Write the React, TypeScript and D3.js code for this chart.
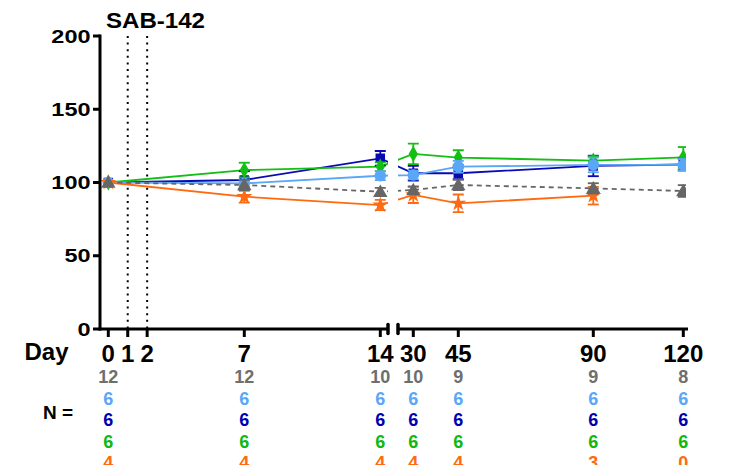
import React from "react";
import * as d3 from "d3";

// ---- data ----
const days = [0, 7, 14, 30, 45, 90, 120];
const dayTickLabels = ["0", "1", "2", "7", "14", "30", "45", "90", "120"];
const dayTicks = [0, 1, 2, 7, 14, 30, 45, 90, 120];
const yTicks = [0, 50, 100, 150, 200];

const grayMean = [100, 98.3, 93.7, 94.9, 98.3, 96.0, 94.2];
const graySem = [0, 3.5, 2.6, 2.5, 3.5, 3.5, 4];
const lightBlueMean = [100, 99.4, 104.6, 105.1, 110.8, 112.0, 112.0];
const lightBlueSem = [0, 2.5, 3, 3, 4, 5, 4];
const darkBlueMean = [100, 101.7, 116.5, 106.3, 106.3, 111.3, 112.3];
const darkBlueSem = [0, 6, 5, 5, 4, 7, 4];
const greenMean = [100, 108.5, 110.8, 119.5, 117.0, 114.9, 117.2];
const greenSem = [0, 5, 3, 7, 5, 3, 7];
const orangeMean: (number | null)[] = [100, 90.3, 84.6, 91.5, 85.8, 91.0, null];
const orangeSem: (number | null)[] = [0, 4, 3.5, 5.5, 6, 6, null];

const nGray = [12, 12, 10, 10, 9, 9, 8];
const nLightBlue = [6, 6, 6, 6, 6, 6, 6];
const nDarkBlue = [6, 6, 6, 6, 6, 6, 6];
const nGreen = [6, 6, 6, 6, 6, 6, 6];
const nOrange = [4, 4, 4, 4, 4, 3, 0];

const title = "SAB-142";

// ---- styles ----
const FONT = "'Liberation Sans', Arial, Helvetica, sans-serif";
const C_GRAY = "#666666";
const C_LBLUE = "#5aa6f7";
const C_DBLUE = "#0a0ab4";
const C_GREEN = "#14bf14";
const C_ORANGE = "#ff6a10";

type Series = {
  mean: (number | null)[];
  sem: (number | null)[];
  color: string;
  symbol: d3.SymbolType;
  size: number;
  dashed?: boolean;
};

const series: Series[] = [
  { mean: darkBlueMean, sem: darkBlueSem, color: C_DBLUE, symbol: d3.symbolSquare, size: 90 },
  { mean: greenMean, sem: greenSem, color: C_GREEN, symbol: d3.symbolDiamond, size: 75 },
  { mean: lightBlueMean, sem: lightBlueSem, color: C_LBLUE, symbol: d3.symbolCircle, size: 105 },
  { mean: orangeMean, sem: orangeSem, color: C_ORANGE, symbol: d3.symbolStar, size: 80 },
  { mean: grayMean, sem: graySem, color: C_GRAY, symbol: d3.symbolTriangle, size: 90, dashed: true },
];

const nRows = [
  { values: nGray, color: "#6e6e6e" },
  { values: nLightBlue, color: C_LBLUE },
  { values: nDarkBlue, color: "#0000b0" },
  { values: nGreen, color: "#11b811" },
  { values: nOrange, color: C_ORANGE },
];

export default function App() {
  const x = d3.scaleLinear().domain([0, 14, 30, 120]).range([108.3, 380.3, 413.3, 683.3]);
  const y = d3.scaleLinear().domain([0, 200]).range([329, 36]);
  const axisY = 329;
  const axisX = 100;
  const seg1End = 388;
  const seg2Start = 398;
  const seg2End = 688;

  const line = d3
    .line<[number, number | null]>()
    .defined((d) => d[1] != null)
    .x((d) => x(d[0]))
    .y((d) => y(d[1] as number));

  return (
    <svg
      width={730}
      height={465}
      style={{ position: "absolute", left: 0, top: 0, display: "block", background: "#fff" }}
      fontFamily={FONT}
    >
      <defs>
        <clipPath id="plotClip">
          <rect x={axisX} y={0} width={seg1End - axisX} height={465} />
          <rect x={seg2Start} y={0} width={686 - seg2Start} height={465} />
        </clipPath>
      </defs>

      {/* title */}
      <text x={106} y={28.3} fontSize={22} fontWeight="bold" textLength={99} lengthAdjust="spacingAndGlyphs">
        {title}
      </text>

      {/* dotted reference lines at day 1 and day 2 */}
      {[1, 2].map((d) => (
        <line
          key={"dot" + d}
          x1={x(d)}
          x2={x(d)}
          y1={36}
          y2={axisY}
          stroke="#000"
          strokeWidth={2}
          strokeDasharray="2 4.6"
        />
      ))}

      {/* data */}
      <g clipPath="url(#plotClip)">
        {series.map((s, i) => (
          <path
            key={"l" + i}
            d={line(days.map((d, j) => [d, s.mean[j]] as [number, number | null])) || ""}
            fill="none"
            stroke={s.color}
            strokeWidth={1.8}
            strokeDasharray={s.dashed ? "5 4" : undefined}
          />
        ))}
        {series.map((s, i) => (
          <g key={"m" + i}>
            {days.map((d, j) => {
              const m = s.mean[j];
              const e = s.sem[j];
              if (m == null) return null;
              const cx = x(d);
              const cy = y(m);
              const sym = d3.symbol().type(s.symbol).size(s.size)() || "";
              return (
                <g key={j}>
                  {e != null && e > 0 && (
                    <g stroke={s.color} strokeWidth={1.8}>
                      <line x1={cx} x2={cx} y1={y(m - e)} y2={y(m + e)} />
                      <line x1={cx - 5.5} x2={cx + 5.5} y1={y(m + e)} y2={y(m + e)} />
                      <line x1={cx - 5.5} x2={cx + 5.5} y1={y(m - e)} y2={y(m - e)} />
                    </g>
                  )}
                  <path
                    d={sym}
                    transform={`translate(${cx},${cy + (s.symbol === d3.symbolTriangle ? 1 : 0)})`}
                    fill={s.color}
                  />
                </g>
              );
            })}
          </g>
        ))}
      </g>

      {/* y axis */}
      <line x1={axisX} x2={axisX} y1={34.5} y2={axisY + 1.5} stroke="#000" strokeWidth={3} />
      {yTicks.map((t) => (
        <g key={"yt" + t}>
          <line x1={93} x2={axisX} y1={y(t)} y2={y(t)} stroke="#000" strokeWidth={3} />
          <text
            transform={`translate(90.5,${y(t) + 6.6}) scale(1.27,1)`}
            textAnchor="end"
            fontSize={18.5}
            fontWeight="bold"
          >
            {t}
          </text>
        </g>
      ))}

      {/* x axis (broken) */}
      <line x1={axisX - 1.5} x2={seg1End} y1={axisY} y2={axisY} stroke="#000" strokeWidth={3} />
      <line x1={seg2Start} x2={seg2End} y1={axisY} y2={axisY} stroke="#000" strokeWidth={3} />
      <line x1={seg1End} x2={seg1End} y1={324.5} y2={333.5} stroke="#000" strokeWidth={3.5} strokeLinecap="round" />
      <line x1={seg2Start} x2={seg2Start} y1={324.5} y2={333.5} stroke="#000" strokeWidth={3.5} strokeLinecap="round" />
      {dayTicks.map((t, i) => (
        <g key={"xt" + t}>
          <line x1={x(t)} x2={x(t)} y1={axisY} y2={337} stroke="#000" strokeWidth={3} />
          <text x={x(t)} y={362} textAnchor="middle" fontSize={24} fontWeight="bold">
            {dayTickLabels[i]}
          </text>
        </g>
      ))}
      <text x={24.5} y={360} fontSize={24} fontWeight="bold">
        Day
      </text>

      {/* N table */}
      <text x={43} y={419.3} fontSize={19} fontWeight="bold">
        N =
      </text>
      {nRows.map((r, ri) => (
        <g key={"nr" + ri} fill={r.color}>
          {days.map((d, j) => (
            <text
              key={j}
              x={x(d)}
              y={383.3 + ri * 21.4}
              textAnchor="middle"
              fontSize={18}
              fontWeight="bold"
            >
              {r.values[j]}
            </text>
          ))}
        </g>
      ))}
    </svg>
  );
}
